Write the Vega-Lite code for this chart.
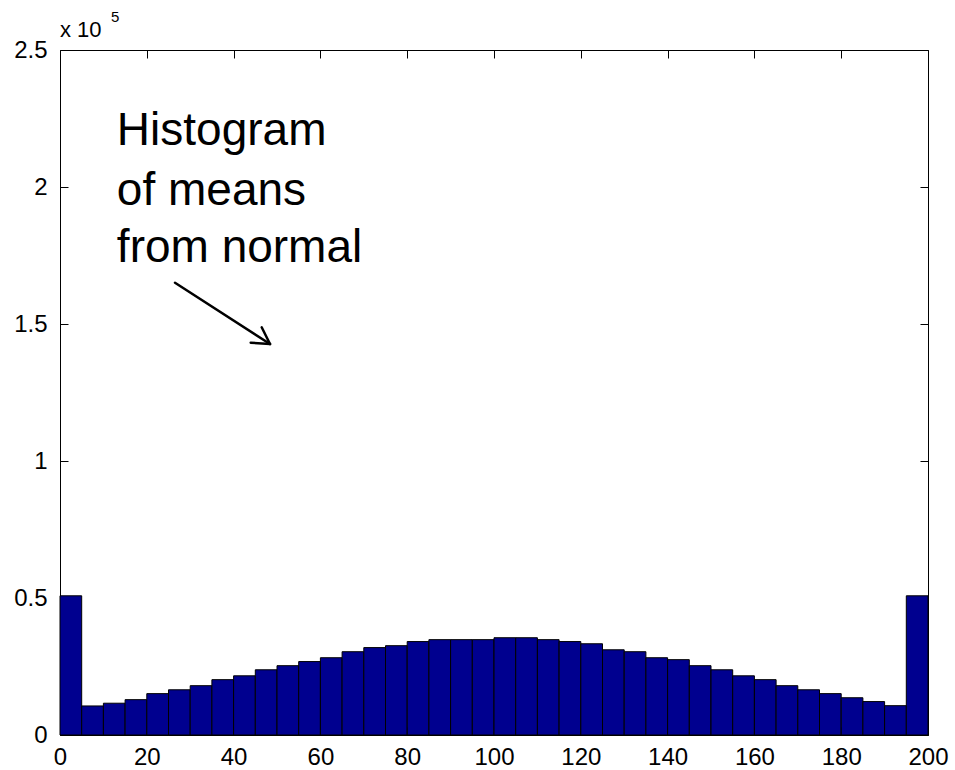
{
  "$schema": "https://vega.github.io/schema/vega-lite/v6.json",
  "autosize": "none",
  "width": 868,
  "height": 685,
  "padding": {"left": 60, "top": 50, "right": 27, "bottom": 35},
  "background": "white",
  "config": {
    "view": {"stroke": "black", "strokeWidth": 1},
    "font": "Liberation Sans",
    "axis": {"grid": false, "domain": false, "labelFont": "Liberation Sans", "labelFontSize": 24, "labelColor": "black", "tickColor": "black", "title": null}
  },
  "datasets": {
    "bars": [
      {"bin_start": 0, "bin_end": 5, "count": 50800},
      {"bin_start": 5, "bin_end": 10, "count": 10600},
      {"bin_start": 10, "bin_end": 15, "count": 11600},
      {"bin_start": 15, "bin_end": 20, "count": 12900},
      {"bin_start": 20, "bin_end": 25, "count": 15100},
      {"bin_start": 25, "bin_end": 30, "count": 16500},
      {"bin_start": 30, "bin_end": 35, "count": 18000},
      {"bin_start": 35, "bin_end": 40, "count": 20200},
      {"bin_start": 40, "bin_end": 45, "count": 21600},
      {"bin_start": 45, "bin_end": 50, "count": 23800},
      {"bin_start": 50, "bin_end": 55, "count": 25300},
      {"bin_start": 55, "bin_end": 60, "count": 26800},
      {"bin_start": 60, "bin_end": 65, "count": 28200},
      {"bin_start": 65, "bin_end": 70, "count": 30400},
      {"bin_start": 70, "bin_end": 75, "count": 31900},
      {"bin_start": 75, "bin_end": 80, "count": 32600},
      {"bin_start": 80, "bin_end": 85, "count": 34100},
      {"bin_start": 85, "bin_end": 90, "count": 34800},
      {"bin_start": 90, "bin_end": 95, "count": 34800},
      {"bin_start": 95, "bin_end": 100, "count": 34800},
      {"bin_start": 100, "bin_end": 105, "count": 35500},
      {"bin_start": 105, "bin_end": 110, "count": 35500},
      {"bin_start": 110, "bin_end": 115, "count": 34800},
      {"bin_start": 115, "bin_end": 120, "count": 34100},
      {"bin_start": 120, "bin_end": 125, "count": 33300},
      {"bin_start": 125, "bin_end": 130, "count": 31100},
      {"bin_start": 130, "bin_end": 135, "count": 30400},
      {"bin_start": 135, "bin_end": 140, "count": 28200},
      {"bin_start": 140, "bin_end": 145, "count": 27500},
      {"bin_start": 145, "bin_end": 150, "count": 25300},
      {"bin_start": 150, "bin_end": 155, "count": 23800},
      {"bin_start": 155, "bin_end": 160, "count": 21600},
      {"bin_start": 160, "bin_end": 165, "count": 20200},
      {"bin_start": 165, "bin_end": 170, "count": 18000},
      {"bin_start": 170, "bin_end": 175, "count": 16500},
      {"bin_start": 175, "bin_end": 180, "count": 15100},
      {"bin_start": 180, "bin_end": 185, "count": 13600},
      {"bin_start": 185, "bin_end": 190, "count": 12200},
      {"bin_start": 190, "bin_end": 195, "count": 10700},
      {"bin_start": 195, "bin_end": 200, "count": 50800}
    ],
    "label": [
      {"x": 13.1, "y": 215300, "text": "Histogram"},
      {"x": 13.1, "y": 193400, "text": "of means"},
      {"x": 13.1, "y": 172600, "text": "from normal"}
    ],
    "arrow": [
      {"x": 26.5, "y": 165070, "x2": 48.39, "y2": 142700},
      {"x": 43.94, "y": 143180, "x2": 48.39, "y2": 142700},
      {"x": 46.47, "y": 148800, "x2": 48.39, "y2": 142700}
    ],
    "exponent": [
      {"x": 0, "y": 250000, "base": "x 10", "power": "5"}
    ]
  },
  "resolve": {"axis": {"x": "independent", "y": "independent"}},
  "layer": [
    {
      "data": {"name": "bars"},
      "mark": {"type": "bar", "color": "#00008F", "stroke": "black", "strokeWidth": 1},
      "encoding": {
        "x": {"field": "bin_start", "type": "quantitative",
              "scale": {"domain": [0, 200], "nice": false, "zero": false},
              "axis": {"orient": "bottom", "values": [0, 20, 40, 60, 80, 100, 120, 140, 160, 180, 200], "tickSize": -8, "labelPadding": 18, "labelFontSize": 24, "labelFlush": false, "labelOverlap": false}},
        "x2": {"field": "bin_end"},
        "y": {"field": "count", "type": "quantitative",
              "scale": {"domain": [0, 250000], "nice": false},
              "axis": {"orient": "left", "values": [0, 50000, 100000, 150000, 200000, 250000], "tickSize": -8, "labelPadding": 21, "labelFontSize": 24, "labelExpr": "format(datum.value / 100000, '~g')", "labelFlush": false, "labelOverlap": false}},
        "y2": {"datum": 0}
      }
    },
    {
      "data": {"name": "label"},
      "mark": {"type": "text", "font": "Liberation Sans", "fontSize": 46, "align": "left", "baseline": "alphabetic", "color": "black"},
      "encoding": {
        "x": {"field": "x", "type": "quantitative",
              "scale": {"domain": [0, 200], "nice": false, "zero": false},
              "axis": {"orient": "top", "values": [0, 20, 40, 60, 80, 100, 120, 140, 160, 180, 200], "tickSize": -8, "labels": false}},
        "y": {"field": "y", "type": "quantitative",
              "scale": {"domain": [0, 250000], "nice": false},
              "axis": {"orient": "right", "values": [0, 50000, 100000, 150000, 200000, 250000], "tickSize": -8, "labels": false}},
        "text": {"field": "text"}
      }
    },
    {
      "data": {"name": "arrow"},
      "mark": {"type": "rule", "color": "black", "strokeWidth": 2.5, "strokeCap": "round"},
      "encoding": {
        "x": {"field": "x", "type": "quantitative", "axis": null},
        "y": {"field": "y", "type": "quantitative", "axis": null},
        "x2": {"field": "x2"},
        "y2": {"field": "y2"}
      }
    },
    {
      "data": {"name": "exponent"},
      "mark": {"type": "text", "font": "Liberation Sans", "fontSize": 22, "align": "left", "baseline": "alphabetic", "dy": -13, "color": "black"},
      "encoding": {
        "x": {"field": "x", "type": "quantitative", "axis": null},
        "y": {"field": "y", "type": "quantitative", "axis": null},
        "text": {"field": "base"}
      }
    },
    {
      "data": {"name": "exponent"},
      "mark": {"type": "text", "font": "Liberation Sans", "fontSize": 15, "align": "left", "baseline": "alphabetic", "dx": 51, "dy": -28, "color": "black"},
      "encoding": {
        "x": {"field": "x", "type": "quantitative", "axis": null},
        "y": {"field": "y", "type": "quantitative", "axis": null},
        "text": {"field": "power"}
      }
    }
  ]
}
